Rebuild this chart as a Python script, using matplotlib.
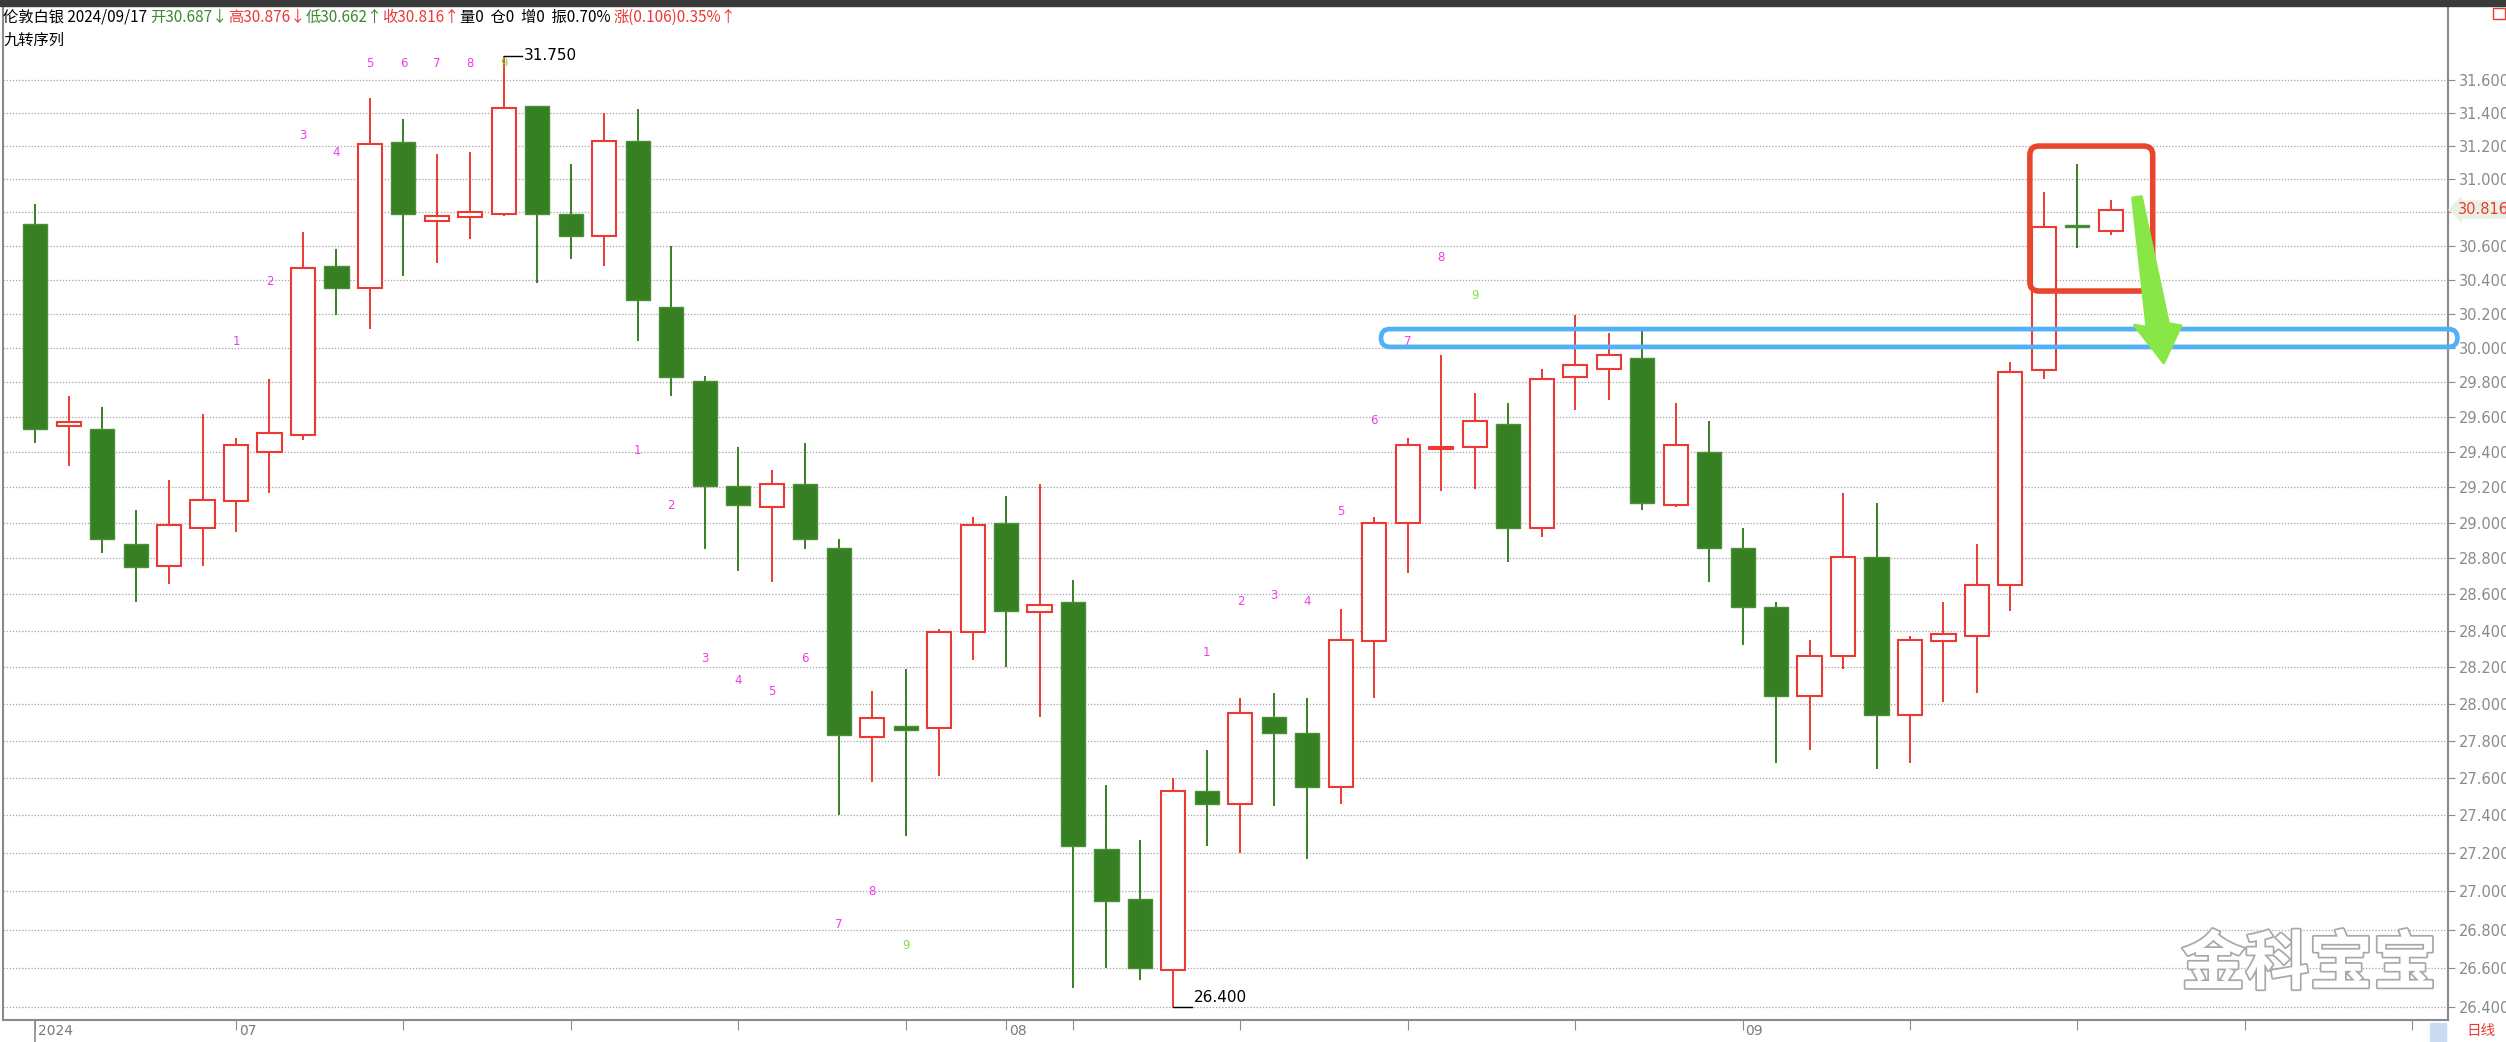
"""
伦敦白银 daily K-line with 九转序列 labels, Jun-Sep 2024. Output: out.png
"""

import numpy as np
import matplotlib
matplotlib.use("Agg")
import matplotlib.pyplot as plt
import matplotlib.patheffects as pe
from matplotlib.patches import FancyBboxPatch, Polygon, Rectangle
from matplotlib.offsetbox import TextArea, HPacker, AnchoredOffsetbox
from matplotlib.ticker import FixedLocator, NullLocator, FuncFormatter
from matplotlib.transforms import IdentityTransform, blended_transform_factory

CJK = ["Noto Sans CJK SC", "DejaVu Sans"]
RED = "#ec3a33"; GREEN = "#377f23"; MAGENTA = "#f03cf0"; LIME = "#86e04a"
GRAY = "#8a8a8a"

# ── data: daily OHLC, 2024-06-21 .. 2024-09-17 (weekdays) ─────────────────────
opens = [30.73, 29.55, 29.53, 28.88, 28.76, 28.97, 29.12, 29.40, 29.50, 30.48,
         30.35, 31.22, 30.75, 30.77, 30.79, 31.44, 30.79, 30.66, 31.23, 30.24,
         29.81, 29.21, 29.09, 29.22, 28.86, 27.82, 27.88, 27.87, 28.39, 29.00,
         28.50, 28.56, 27.22, 26.96, 26.59, 27.53, 27.46, 27.93, 27.84, 27.55,
         28.34, 29.00, 29.42, 29.43, 29.56, 28.97, 29.83, 29.88, 29.94, 29.10,
         29.40, 28.86, 28.53, 28.04, 28.26, 28.81, 27.94, 28.34, 28.37, 28.65,
         29.87, 30.72, 30.687]
highs = [30.85, 29.72, 29.66, 29.07, 29.24, 29.62, 29.48, 29.82, 30.68, 30.58,
         31.49, 31.36, 31.15, 31.16, 31.75, 31.44, 31.09, 31.40, 31.42, 30.60,
         29.84, 29.43, 29.30, 29.45, 28.91, 28.07, 28.19, 28.41, 29.03, 29.15,
         29.22, 28.68, 27.56, 27.27, 27.60, 27.75, 28.03, 28.06, 28.03, 28.52,
         29.03, 29.48, 29.96, 29.74, 29.68, 29.88, 30.19, 30.09, 30.11, 29.68,
         29.58, 28.97, 28.56, 28.35, 29.17, 29.11, 28.37, 28.56, 28.88, 29.92,
         30.92, 31.09, 30.876]
lows = [29.45, 29.32, 28.83, 28.56, 28.66, 28.76, 28.95, 29.17, 29.47, 30.19,
        30.11, 30.42, 30.50, 30.64, 30.78, 30.38, 30.52, 30.48, 30.04, 29.72,
        28.85, 28.73, 28.67, 28.85, 27.40, 27.58, 27.29, 27.61, 28.24, 28.20,
        27.93, 26.50, 26.60, 26.54, 26.40, 27.24, 27.20, 27.45, 27.17, 27.46,
        28.03, 28.72, 29.18, 29.19, 28.78, 28.92, 29.64, 29.70, 29.07, 29.09,
        28.67, 28.32, 27.68, 27.75, 28.19, 27.65, 27.68, 28.01, 28.06, 28.51,
        29.82, 30.59, 30.662]
closes = [29.53, 29.57, 28.91, 28.75, 28.99, 29.13, 29.44, 29.51, 30.47, 30.35,
          31.21, 30.79, 30.78, 30.80, 31.43, 30.79, 30.66, 31.23, 30.28, 29.83,
          29.21, 29.10, 29.22, 28.91, 27.83, 27.92, 27.86, 28.39, 28.99, 28.51,
          28.54, 27.24, 26.95, 26.60, 27.53, 27.46, 27.95, 27.84, 27.55, 28.35,
          29.00, 29.44, 29.43, 29.58, 28.97, 29.82, 29.90, 29.96, 29.11, 29.44,
          28.86, 28.53, 28.04, 28.26, 28.81, 27.94, 28.35, 28.38, 28.65, 29.86,
          30.71, 30.71, 30.816]

# 九转序列: bar where the count "1" starts, and whether it is counted above/below
td_starts = [6, 18, 35]
td_sides = ["sell", "buy", "sell"]

# x axis: weekly ticks (bar index, incl. future slots) and month labels
tick_idx = [0, 6, 11, 16, 21, 26, 29, 31, 36, 41, 46, 51, 56, 61, 66, 71]
month_idx = [0, 6, 29, 51]
month_lbl = ["2024", "07", "08", "09"]

price_ticks = np.round(np.arange(26.4, 31.61, 0.2), 1)

header = [("伦敦白银 2024/09/17 ", "black"), ("开30.687↓", "#3c8a2c"),
          ("高30.876↓", RED), ("低30.662↑", "#3c8a2c"), ("收30.816↑", RED),
          ("量0  仓0  增0  振0.70% ", "black"), ("涨(0.106)0.35%↑", RED)]

# ── figure ─────────────────────────────────────────────────────────────────────
W, H = 2506, 1042
fig = plt.figure(figsize=(W / 100, H / 100), dpi=100)
fig.patch.set_facecolor("white")
ax = fig.add_axes([3 / W, 22 / H, 2445 / W, 1014 / H])
ax.set_yscale("log")
ax.set_xlim(-0.96, 72.07)
ax.set_ylim(26.334, 32.057)

o = np.array(opens); h = np.array(highs); l = np.array(lows); c = np.array(closes)
x = np.arange(len(o))
up = c >= o
bot = np.minimum(o, c)
hgt = np.maximum(np.abs(c - o), 0.012)

ax.vlines(x[up], l[up], h[up], color=RED, lw=1.4, zorder=2)
ax.vlines(x[~up], l[~up], h[~up], color=GREEN, lw=1.4, zorder=2)
ax.bar(x[up], hgt[up], bottom=bot[up], width=0.72, facecolor="white",
       edgecolor=RED, lw=1.5, zorder=3)
ax.bar(x[~up], hgt[~up], bottom=bot[~up], width=0.72, facecolor=GREEN,
       edgecolor="#4b8f39", lw=1.0, zorder=3)

# 九转 counts
for s, side in zip(td_starts, td_sides):
    for k in range(9):
        i = s + k
        y = min(h[i] * 1.019, 31.70) if side == "sell" else l[i] * 0.979
        ax.text(i, y, str(k + 1), ha="center", va="center", fontsize=8.5,
                color=LIME if k == 8 else MAGENTA, zorder=4)

# highest / lowest markers
imax, imin = int(np.argmax(h)), int(np.argmin(l))
ax.plot([imax, imax + 0.55], [h[imax], h[imax]], color="black", lw=1, zorder=4)
ax.text(imax + 0.6, h[imax], f"{h[imax]:.3f}", ha="left", va="center", fontsize=11, zorder=4)
ax.plot([imin, imin + 0.55], [l[imin], l[imin]], color="black", lw=1, zorder=4)
ax.text(imin + 0.6, l[imin] * 1.0005, f"{l[imin]:.3f}", ha="left", va="bottom", fontsize=11, zorder=4)

# axes styling
ax.spines["top"].set_visible(False)
for side in ["left", "right", "bottom"]:
    ax.spines[side].set_color(GRAY); ax.spines[side].set_linewidth(1.5)

ax.yaxis.tick_right()
ax.yaxis.set_major_locator(FixedLocator(price_ticks))
ax.yaxis.set_minor_locator(NullLocator())
ax.yaxis.set_major_formatter(FuncFormatter(lambda v, _: "" if abs(v - 30.8) < 1e-6 else f"{v:.3f}"))
ax.tick_params(axis="y", which="major", direction="out", length=5, color=GRAY,
               labelcolor="#8a8a8a", labelsize=10.5, pad=3)
ax.grid(axis="y", which="major", ls=(0, (1, 1.5)), color="#a4a4a4", lw=0.9)
ax.set_axisbelow(True)

ax.set_xticks(tick_idx)
ax.set_xticklabels([])
ax.tick_params(axis="x", direction="out", length=7, color=GRAY)
bt = blended_transform_factory(ax.transData, ax.transAxes)
for idx, lbl in zip(month_idx, month_lbl):
    ax.text(idx + 0.08, -0.011, lbl, transform=bt, ha="left", va="center",
            fontsize=10, color="#7a7a7a", clip_on=False)
ax.plot([0, 0], [0, -0.022], transform=bt, color=GRAY, lw=1.2, clip_on=False)

# current price tag on the axis
rt = blended_transform_factory(ax.transAxes, ax.transData)
ax.text(1.004, c[-1], f"{c[-1]:.3f}", transform=rt, ha="left", va="center",
        fontsize=10.5, color=RED, clip_on=False,
        bbox=dict(boxstyle="larrow,pad=0.12", fc="#e9f1e4", ec="none"))

# ── header and frame decorations ───────────────────────────────────────────────
fig.add_artist(Rectangle((0, 1 - 6 / H), 1, 6 / H, transform=fig.transFigure,
                         color="#3a3a3a", zorder=5))
pack = HPacker(children=[TextArea(t, textprops=dict(color=col, fontsize=11, family=CJK))
                         for t, col in header], pad=0, sep=0)
fig.add_artist(AnchoredOffsetbox(loc="upper left", child=pack, frameon=False, pad=0,
                                 borderpad=0, bbox_to_anchor=(3 / W, 1 - 9 / H),
                                 bbox_transform=fig.transFigure))
fig.text(3 / W, 1 - 40 / H, "九转序列", va="center", ha="left", fontsize=11, family=CJK)
fig.add_artist(Rectangle((2493 / W, 1 - 19 / H), 12 / W, 11 / H, transform=fig.transFigure,
                         fill=False, ec=RED, lw=1))
fig.add_artist(Rectangle((2430 / W, 0), 16 / W, 19 / H, transform=fig.transFigure,
                         color="#c9dcf2", zorder=2))
fig.text(2466 / W, 1 - 1031 / H, "日线", va="center", ha="left", fontsize=10.5,
         color=RED, family=CJK)
fig.text(2309 / W, 1 - 965 / H, "金科宝宝", ha="center", va="center", fontsize=46,
         color="white", family=CJK, weight="bold", zorder=6,
         path_effects=[pe.withStroke(linewidth=2.5, foreground="#a8a8a8")])


# ── hand-drawn marks: red box, blue band, green arrow ──────────────────────────
def disp(xd, yd):
    return ax.transData.transform((xd, yd))

(x0, y0), (x1, y1) = disp(59.58, 30.333), disp(63.25, 31.198)
fig.add_artist(FancyBboxPatch((x0, y0), x1 - x0, y1 - y0, transform=IdentityTransform(),
                              boxstyle="round,pad=0,rounding_size=9", fill=False,
                              ec="#e8452c", lw=4.0, zorder=7))

(x0, y0), (x1, y1) = disp(40.2, 30.006), disp(72.35, 30.110)
fig.add_artist(FancyBboxPatch((x0, y0), x1 - x0, y1 - y0, transform=IdentityTransform(),
                              boxstyle=f"round,pad=0,rounding_size={(y1 - y0) / 2:.1f}",
                              fill=False, ec="#52b0f4", lw=3.4, zorder=7))

tail, tip = np.array(disp(62.78, 30.89)), np.array(disp(63.58, 29.913))
u = (tip - tail) / np.linalg.norm(tip - tail)
n = np.array([-u[1], u[0]])
base = tip - u * 38
pts = [tail - n * 4.5, base - n * 11, base - n * 23 - u * 4, tip,
       base + n * 23 + u * 4, base + n * 11, tail + n * 4.5]
fig.add_artist(Polygon(pts, closed=True, transform=IdentityTransform(), fc="#88e647",
                       ec="#88e647", lw=2, joinstyle="round", zorder=8))

fig.savefig("out.png", dpi=100, facecolor="white")
